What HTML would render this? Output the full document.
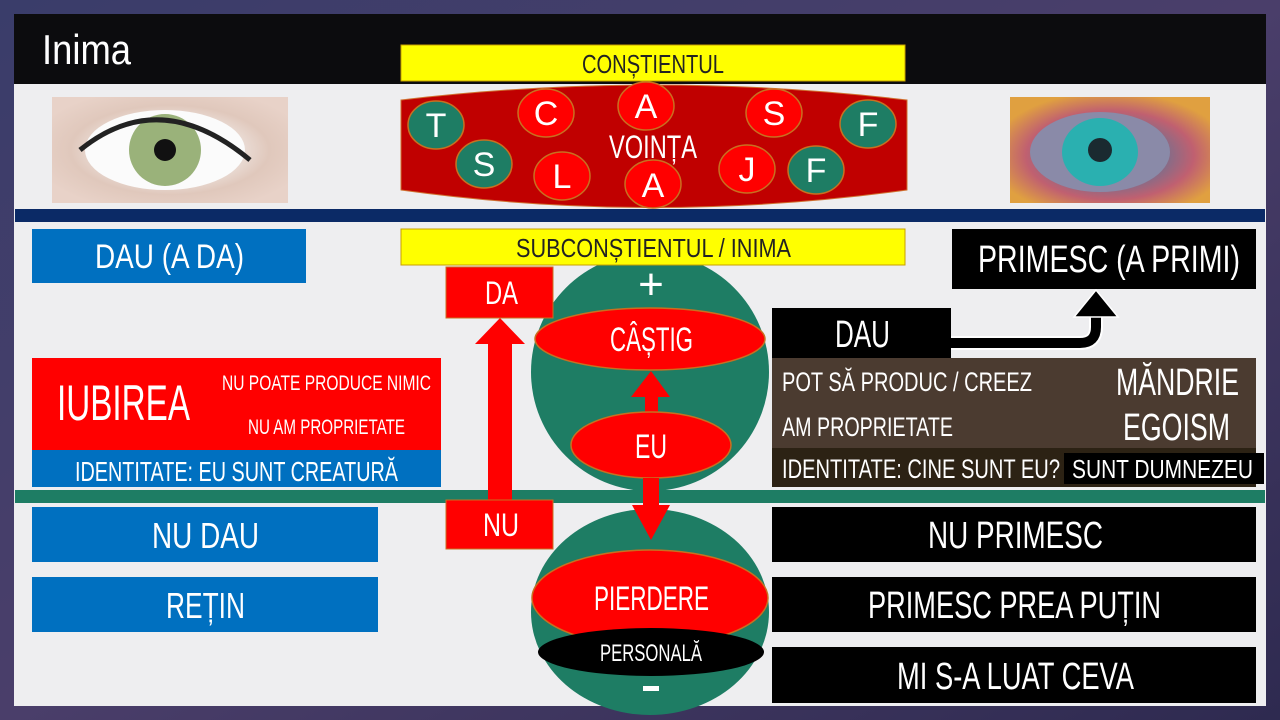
<!DOCTYPE html>
<html><head><meta charset="utf-8"><style>
html,body{margin:0;padding:0;width:1280px;height:720px;overflow:hidden;background:#3b3658}
svg{display:block}
text{font-family:"Liberation Sans",sans-serif;fill:#fff}
</style></head><body>
<svg width="1280" height="720" viewBox="0 0 1280 720" xmlns="http://www.w3.org/2000/svg">
<defs>
<linearGradient id="bg" x1="0" y1="0" x2="1" y2="1"><stop offset="0" stop-color="#3a3d6a"/><stop offset="0.5" stop-color="#4a3e6a"/><stop offset="1" stop-color="#2e2a50"/></linearGradient>
<radialGradient id="eye1" cx="0.5" cy="0.5" r="0.6"><stop offset="0" stop-color="#fafafa"/><stop offset="0.4" stop-color="#f0e8e4"/><stop offset="0.7" stop-color="#e0c8bc"/><stop offset="1" stop-color="#e8d2c8"/></radialGradient>
<radialGradient id="eye2" cx="0.5" cy="0.55" r="0.6"><stop offset="0" stop-color="#203040"/><stop offset="0.2" stop-color="#2ab0b0"/><stop offset="0.4" stop-color="#707090"/><stop offset="0.7" stop-color="#c06070"/><stop offset="1" stop-color="#e0a040"/></radialGradient>
</defs>
<rect width="1280" height="720" fill="url(#bg)"/>
<rect x="14" y="14" width="1252" height="692" fill="#eeeef0"/>
<rect x="14" y="14" width="1252" height="70" fill="#0c0c0e"/>
<text x="42" y="64" font-size="42" textLength="89" lengthAdjust="spacingAndGlyphs">Inima</text>

<!-- eyes -->
<rect x="52" y="97" width="236" height="106" fill="url(#eye1)"/>
<ellipse cx="165" cy="150" rx="80" ry="40" fill="#fbfbfb"/>
<ellipse cx="165" cy="150" rx="36" ry="36" fill="#9ab27a"/>
<circle cx="165" cy="150" r="11" fill="#111"/>
<path d="M80 150 Q160 85 250 160" stroke="#222" stroke-width="5" fill="none"/>
<rect x="1010" y="97" width="200" height="106" fill="url(#eye2)"/>
<ellipse cx="1100" cy="152" rx="70" ry="40" fill="#8a8aa8"/>
<ellipse cx="1100" cy="152" rx="38" ry="34" fill="#2ab0b0"/>
<circle cx="1100" cy="150" r="12" fill="#1a2a30"/>

<!-- consientul -->
<rect x="401" y="45" width="504" height="36" fill="#ffff00" stroke="#c8a000" stroke-width="1"/>
<text x="582" y="73" font-size="26" textLength="142" lengthAdjust="spacingAndGlyphs" style="fill:#222">CONȘTIENTUL</text>
<path d="M401 100 Q653 70 907 100 L907 190 Q653 225 401 190 Z" fill="#c00000" stroke="#d07030" stroke-width="1"/>
<g stroke="#c87020" stroke-width="1.5">
<ellipse cx="436" cy="125" rx="28" ry="24" fill="#1e7d64"/>
<ellipse cx="546" cy="113" rx="28" ry="24" fill="#ff0000"/>
<ellipse cx="646" cy="106" rx="28" ry="24" fill="#ff0000"/>
<ellipse cx="774" cy="113" rx="28" ry="24" fill="#ff0000"/>
<ellipse cx="868" cy="124" rx="28" ry="24" fill="#1e7d64"/>
<ellipse cx="484" cy="164" rx="28" ry="24" fill="#1e7d64"/>
<ellipse cx="562" cy="176" rx="28" ry="24" fill="#ff0000"/>
<ellipse cx="653" cy="184" rx="28" ry="24" fill="#ff0000"/>
<ellipse cx="747" cy="169" rx="28" ry="24" fill="#ff0000"/>
<ellipse cx="816" cy="170" rx="28" ry="24" fill="#1e7d64"/>
</g>
<g font-size="34" text-anchor="middle">
<text x="436" y="137">T</text><text x="546" y="125">C</text><text x="646" y="118">A</text>
<text x="774" y="125">S</text><text x="868" y="136">F</text><text x="484" y="176">S</text>
<text x="562" y="188">L</text><text x="653" y="197">A</text><text x="747" y="181">J</text>
<text x="816" y="182">F</text>
</g>
<text x="609" y="158" font-size="32" textLength="88" lengthAdjust="spacingAndGlyphs">VOINȚA</text>

<rect x="15" y="209" width="1250" height="13" fill="#0b2a66"/>

<!-- green circles -->
<circle cx="650" cy="372" r="119" fill="#1e7d64"/>
<ellipse cx="650" cy="612" rx="119" ry="103" fill="#1e7d64"/>

<!-- row 2 -->
<rect x="32" y="229" width="274" height="54" fill="#0070c0"/>
<text x="95" y="268" font-size="34" textLength="149" lengthAdjust="spacingAndGlyphs">DAU (A DA)</text>
<rect x="401" y="229" width="504" height="36" fill="#ffff00" stroke="#c8a000" stroke-width="1"/>
<text x="516" y="257" font-size="26" textLength="275" lengthAdjust="spacingAndGlyphs" style="fill:#222">SUBCONȘTIENTUL / INIMA</text>
<rect x="952" y="229" width="304" height="60" fill="#000"/>
<text x="978" y="272" font-size="38" textLength="262" lengthAdjust="spacingAndGlyphs">PRIMESC (A PRIMI)</text>

<text x="651" y="299" font-size="44" text-anchor="middle">+</text>

<rect x="15" y="490" width="1250" height="13" fill="#1e7d64"/>

<!-- big arrow -->
<rect x="488" y="343" width="24" height="160" fill="#ff0000"/>
<polygon points="475,344 500,318 525,344" fill="#ff0000"/>
<rect x="446" y="267" width="107" height="51" fill="#ff0000" stroke="#c87020"/>
<text x="485" y="304" font-size="32" textLength="33" lengthAdjust="spacingAndGlyphs">DA</text>
<rect x="446" y="500" width="107" height="49" fill="#ff0000" stroke="#c87020"/>
<text x="483" y="536" font-size="32" textLength="36" lengthAdjust="spacingAndGlyphs">NU</text>

<!-- ellipses -->
<ellipse cx="650" cy="339" rx="115" ry="31" fill="#ff0000" stroke="#c87020" stroke-width="1.5"/>
<text x="610" y="351" font-size="34" textLength="83" lengthAdjust="spacingAndGlyphs">CÂȘTIG</text>
<rect x="645" y="395" width="13" height="20" fill="#ff0000"/>
<polygon points="631,397 651,371 670,397" fill="#ff0000"/>
<ellipse cx="651" cy="445" rx="80" ry="33" fill="#ff0000" stroke="#c87020" stroke-width="1.5"/>
<text x="635" y="458" font-size="34" textLength="32" lengthAdjust="spacingAndGlyphs">EU</text>
<rect x="643" y="478" width="16" height="30" fill="#ff0000"/>
<polygon points="632,505 651,540 670,505" fill="#ff0000"/>
<ellipse cx="650" cy="598" rx="118" ry="48" fill="#ff0000" stroke="#c87020" stroke-width="1.5"/>
<text x="594" y="610" font-size="34" textLength="115" lengthAdjust="spacingAndGlyphs">PIERDERE</text>
<ellipse cx="651" cy="652" rx="113" ry="24" fill="#000"/>
<text x="600" y="661" font-size="24" textLength="102" lengthAdjust="spacingAndGlyphs">PERSONALĂ</text>
<rect x="643" y="686" width="16" height="5" fill="#fff"/>

<!-- left -->
<rect x="32" y="358" width="409" height="92" fill="#ff0000"/>
<text x="57" y="420" font-size="50" textLength="133" lengthAdjust="spacingAndGlyphs">IUBIREA</text>
<text x="222" y="390" font-size="21" textLength="209" lengthAdjust="spacingAndGlyphs">NU POATE PRODUCE NIMIC</text>
<text x="248" y="434" font-size="21" textLength="157" lengthAdjust="spacingAndGlyphs">NU AM PROPRIETATE</text>
<rect x="32" y="450" width="409" height="37" fill="#0070c0"/>
<text x="75" y="481" font-size="28" textLength="323" lengthAdjust="spacingAndGlyphs">IDENTITATE: EU SUNT CREATURĂ</text>
<rect x="32" y="507" width="346" height="55" fill="#0070c0"/>
<text x="152" y="548" font-size="36" textLength="107" lengthAdjust="spacingAndGlyphs">NU DAU</text>
<rect x="32" y="577" width="346" height="55" fill="#0070c0"/>
<text x="166" y="618" font-size="36" textLength="79" lengthAdjust="spacingAndGlyphs">REȚIN</text>

<!-- right -->
<rect x="772" y="358" width="484" height="129" fill="#4b3b30"/>
<rect x="772" y="448" width="484" height="39" fill="#2c2214"/>
<rect x="772" y="308" width="179" height="50" fill="#000"/>
<text x="835" y="347" font-size="38" textLength="55" lengthAdjust="spacingAndGlyphs">DAU</text>
<path d="M951 343 L1080 343 Q1096 343 1096 327 L1096 313" stroke="#fff" stroke-width="14" fill="none"/>
<path d="M951 343 L1080 343 Q1096 343 1096 327 L1096 313" stroke="#000" stroke-width="10" fill="none"/>
<polygon points="1074,317 1096,290 1118,317" fill="#000" stroke="#fff" stroke-width="1.5"/>
<text x="782" y="391" font-size="27" textLength="250" lengthAdjust="spacingAndGlyphs">POT SĂ PRODUC / CREEZ</text>
<text x="782" y="436" font-size="27" textLength="171" lengthAdjust="spacingAndGlyphs">AM PROPRIETATE</text>
<text x="1116" y="395" font-size="38" textLength="123" lengthAdjust="spacingAndGlyphs">MĂNDRIE</text>
<text x="1123" y="440" font-size="38" textLength="107" lengthAdjust="spacingAndGlyphs">EGOISM</text>
<text x="782" y="478" font-size="27" textLength="278" lengthAdjust="spacingAndGlyphs">IDENTITATE: CINE SUNT EU?</text>
<rect x="1064" y="453" width="200" height="31" fill="#000"/>
<text x="1072" y="478" font-size="26" textLength="181" lengthAdjust="spacingAndGlyphs">SUNT DUMNEZEU</text>
<rect x="772" y="507" width="484" height="55" fill="#000"/>
<text x="928" y="548" font-size="38" textLength="175" lengthAdjust="spacingAndGlyphs">NU PRIMESC</text>
<rect x="772" y="577" width="484" height="55" fill="#000"/>
<text x="868" y="618" font-size="38" textLength="293" lengthAdjust="spacingAndGlyphs">PRIMESC PREA PUȚIN</text>
<rect x="772" y="647" width="484" height="56" fill="#000"/>
<text x="897" y="689" font-size="38" textLength="237" lengthAdjust="spacingAndGlyphs">MI S-A LUAT CEVA</text>
</svg>
</body></html>
